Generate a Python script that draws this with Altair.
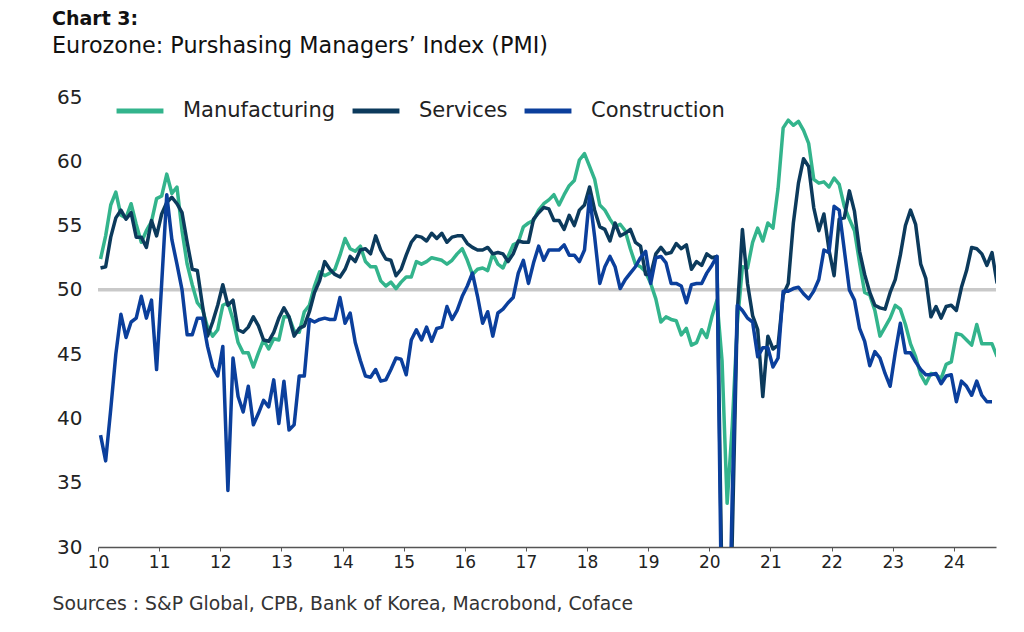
import altair as alt
import pandas as pd

FONT = "DejaVu Sans"

series_names = ["Manufacturing", "Services", "Construction"]
series_colors = ["#33B48C", "#0C3A5C", "#0B3F9C"]
start_year = 2010

manufacturing = [
    52.4, 54.2, 56.6, 57.6, 55.8, 55.6, 56.7, 55.1, 53.7, 54.6, 55.3, 57.1,
    57.3, 59.0, 57.5, 58.0, 54.6, 52.0, 50.4, 49.0, 48.5, 47.1, 46.4, 46.9,
    48.8, 49.0, 47.7, 45.9, 45.1, 45.1, 44.0, 45.1, 46.1, 45.4, 46.2, 46.1,
    47.9, 47.9, 46.8, 46.7, 48.3, 48.8, 50.3, 51.4, 51.1, 51.3, 51.6, 52.7,
    54.0, 53.2, 53.0, 53.4, 52.2, 51.8, 51.8, 50.7, 50.3, 50.6, 50.1, 50.6,
    51.0, 51.0, 52.2, 52.0, 52.2, 52.5, 52.4, 52.3, 52.0, 52.3, 52.8, 53.2,
    52.3, 51.2, 51.6, 51.7, 51.5, 52.8, 52.0, 51.7, 52.6, 53.5, 53.7, 54.9,
    55.2, 55.4, 56.2, 56.7, 57.0, 57.4, 56.6, 57.4, 58.1, 58.5, 60.1, 60.6,
    59.6, 58.6, 56.6, 56.2, 55.5, 54.9, 55.1, 54.6, 53.2, 52.0, 51.8, 51.4,
    50.5, 49.3, 47.5, 47.9, 47.7, 47.6, 46.5, 47.0, 45.7, 45.9, 46.9, 46.3,
    47.9, 49.2, 44.5, 33.4, 39.4, 47.4, 51.8, 51.7, 53.7, 54.8, 53.8, 55.2,
    54.8, 57.9, 62.6, 63.2, 62.8, 63.1, 62.4, 61.4, 58.6, 58.3, 58.4, 58.0,
    58.7, 58.2, 56.5, 55.5, 54.6, 52.1, 49.8, 49.6, 48.4, 46.4, 47.1, 47.8,
    48.8, 48.5, 47.3, 45.8, 44.8, 43.4, 42.7, 43.5, 43.4, 43.1, 44.2, 44.4,
    46.6, 46.5, 46.1, 45.7, 47.3, 45.8, 45.8, 45.8, 44.8,
]

services = [
    51.7, 51.8, 54.1, 55.6, 56.2, 55.5, 56.0, 54.1, 54.1, 53.3, 55.4, 54.2,
    55.9, 56.8, 57.2, 56.7, 56.0, 53.7, 51.6, 51.5, 48.8, 46.4, 47.5, 48.8,
    50.4, 48.8, 49.2, 46.9, 46.7, 47.1, 47.9, 47.2, 46.1, 46.0, 46.7, 47.8,
    48.6, 47.9, 46.4, 47.0, 47.2, 48.3, 49.8, 50.7, 52.2, 51.6, 51.2, 51.0,
    51.6, 52.6, 52.2, 53.1, 53.2, 52.8, 54.2, 53.1, 52.4, 52.3, 51.1, 51.6,
    52.7, 53.7, 54.2, 54.1, 53.8, 54.4, 54.0, 54.4, 53.7, 54.1, 54.2, 54.2,
    53.6, 53.3, 53.1, 53.1, 53.3, 52.8, 52.9, 52.8, 52.2, 52.8, 53.8, 53.7,
    53.7, 55.5, 56.0, 56.4, 56.3, 55.4, 55.4, 54.7, 55.8, 55.0, 56.2, 56.6,
    58.0, 56.2, 54.9, 54.7, 53.8, 55.2, 54.2, 54.4, 54.7, 53.7, 53.4, 51.2,
    51.2, 52.8, 53.3, 52.8, 52.9, 53.6, 53.2, 53.5, 51.6, 52.2, 51.9, 52.8,
    52.5, 52.6, 26.4, 12.0, 30.5, 48.3, 54.7, 50.5, 48.0, 46.9, 41.7, 46.4,
    45.4, 45.7, 49.6, 50.5, 55.2, 58.3, 60.2, 59.6, 56.4, 54.6, 55.9, 53.1,
    51.1, 55.5, 55.6, 57.7, 56.1, 53.0, 51.2, 49.8, 48.8, 48.6, 48.5, 49.8,
    50.8, 52.7, 55.0, 56.2, 55.1, 52.0, 50.9, 47.9, 48.7, 47.8, 48.7, 48.8,
    48.4, 50.2, 51.5, 53.3, 53.2, 52.8, 51.9, 52.9, 50.5,
]

construction = [
    38.7, 36.7, 40.7, 45.0, 48.1, 46.3, 47.5, 47.8, 49.5, 47.8, 49.2, 43.8,
    50.5, 57.4, 53.9, 52.0, 50.0, 46.5, 46.5, 47.8, 47.8, 45.6, 44.0, 43.3,
    45.6, 34.4, 44.7, 41.7, 40.5, 42.5, 39.5, 40.4, 41.4, 40.9, 43.0, 39.6,
    42.9, 39.1, 39.5, 43.3, 43.3, 47.7, 47.5, 47.7, 47.8, 47.7, 47.7, 49.4,
    47.4, 48.2, 45.9, 44.5, 43.3, 43.2, 43.8, 42.9, 43.0, 43.8, 44.7, 44.6,
    43.4, 46.1, 46.9, 46.1, 47.1, 46.0, 47.0, 47.1, 48.7, 47.7, 48.4, 49.5,
    50.3, 51.3, 49.5, 47.4, 48.3, 46.4, 48.2, 48.5, 49.0, 49.4, 51.3, 52.3,
    50.5, 52.1, 53.4, 52.3, 53.1, 53.1, 53.1, 53.5, 52.7, 52.7, 52.2, 53.1,
    57.3, 54.1, 50.5, 51.8, 52.6, 51.8, 50.1, 50.8, 51.3, 51.8, 52.5, 53.0,
    50.5, 52.5, 52.6, 52.1, 50.5, 50.5, 50.3, 49.0, 50.4, 50.5, 50.5, 51.3,
    51.9, 52.6, 22.0, 15.1, 34.0, 48.8, 48.4, 47.8, 47.5, 44.8, 45.5, 45.5,
    44.0, 44.7, 49.9, 49.9, 50.1, 50.2, 49.7, 49.3, 49.9, 50.8, 53.1, 52.9,
    56.5, 56.2, 53.1, 50.0, 49.2, 47.0, 46.0, 44.1, 45.2, 44.7, 43.5, 42.5,
    45.1, 47.4, 45.1, 45.1, 44.4, 43.8, 43.4, 43.4, 43.5, 42.7, 43.3, 43.4,
    41.3, 42.9, 42.5, 41.8, 42.9, 41.8, 41.3, 41.3,
]

y_ticks = [30, 35, 40, 45, 50, 55, 60, 65]
x_ticks = list(range(2010, 2025))
reference_level = [50]

rows = []
for name, vals in zip(series_names, [manufacturing, services, construction]):
    for i, v in enumerate(vals):
        rows.append({"t": start_year + (i + 0.5) / 12, "value": v, "series": name})
df = pd.DataFrame(rows)
ref_df = pd.DataFrame({"level": reference_level})

x_enc = alt.X(
    "t:Q",
    scale=alt.Scale(domain=[2010, 2024.69], nice=False, zero=False),
    axis=alt.Axis(
        values=x_ticks,
        labelExpr="format(datum.value - 2000, 'd')",
        labelFont=FONT, labelFontSize=17, labelColor="#222", labelPadding=3,
        labelFlush=False, labelOverlap=False,
        domainColor="#555", domainWidth=1.5, tickColor="#555", tickSize=4,
        grid=False,
        title="Sources : S&P Global, CPB, Bank of Korea, Macrobond, Coface",
        titleFont=FONT, titleFontSize=18.8, titleFontWeight="normal", titleColor="#333",
        titleX=-46, titleY=56, titleAlign="left", titleBaseline="middle",
    ),
)
y_enc = alt.Y(
    "value:Q",
    scale=alt.Scale(domain=[30, 65], nice=False, zero=False),
    axis=alt.Axis(
        values=y_ticks, title=None, domain=False, ticks=False, grid=False,
        labelFont=FONT, labelFontSize=20, labelColor="#222", labelPadding=16,
    ),
)
color_enc = alt.Color(
    "series:N",
    scale=alt.Scale(domain=series_names, range=series_colors),
    legend=alt.Legend(
        title=None, orient="none", legendX=16, legendY=-12, direction="horizontal",
        symbolType="stroke", symbolStrokeWidth=5, symbolSize=2200,
        labelFont=FONT, labelFontSize=21, labelColor="#222", labelOffset=17,
        columnPadding=6,
    ),
)

ref = alt.Chart(ref_df).mark_rule(color="#C9C9C9", strokeWidth=3.5).encode(y="level:Q")

layers = [ref]
for name in series_names:
    layers.append(
        alt.Chart(df)
        .transform_filter(alt.datum.series == name)
        .mark_line(strokeWidth=3.5, clip=True, strokeJoin="round")
        .encode(x=x_enc, y=y_enc, color=color_enc)
    )

chart = (
    alt.layer(*layers)
    .properties(
        width=898,
        height=450,
        background="white",
        padding={"left": 98, "top": 97, "right": 28, "bottom": 85},
        autosize=alt.AutoSizeParams(type="none"),
        title=alt.TitleParams(
            text="Chart 3:",
            subtitle="Eurozone: Purshasing Managers’ Index (PMI)",
            anchor="start", frame="group", dx=-46, offset=28,
            font=FONT, fontSize=19, fontWeight="bold", color="#111",
            subtitleFont=FONT, subtitleFontSize=22.3, subtitleColor="#111",
            subtitlePadding=6,
        ),
    )
    .configure_view(stroke=None)
)

chart.save("out.html", embed_options={"renderer": "svg", "actions": False})
